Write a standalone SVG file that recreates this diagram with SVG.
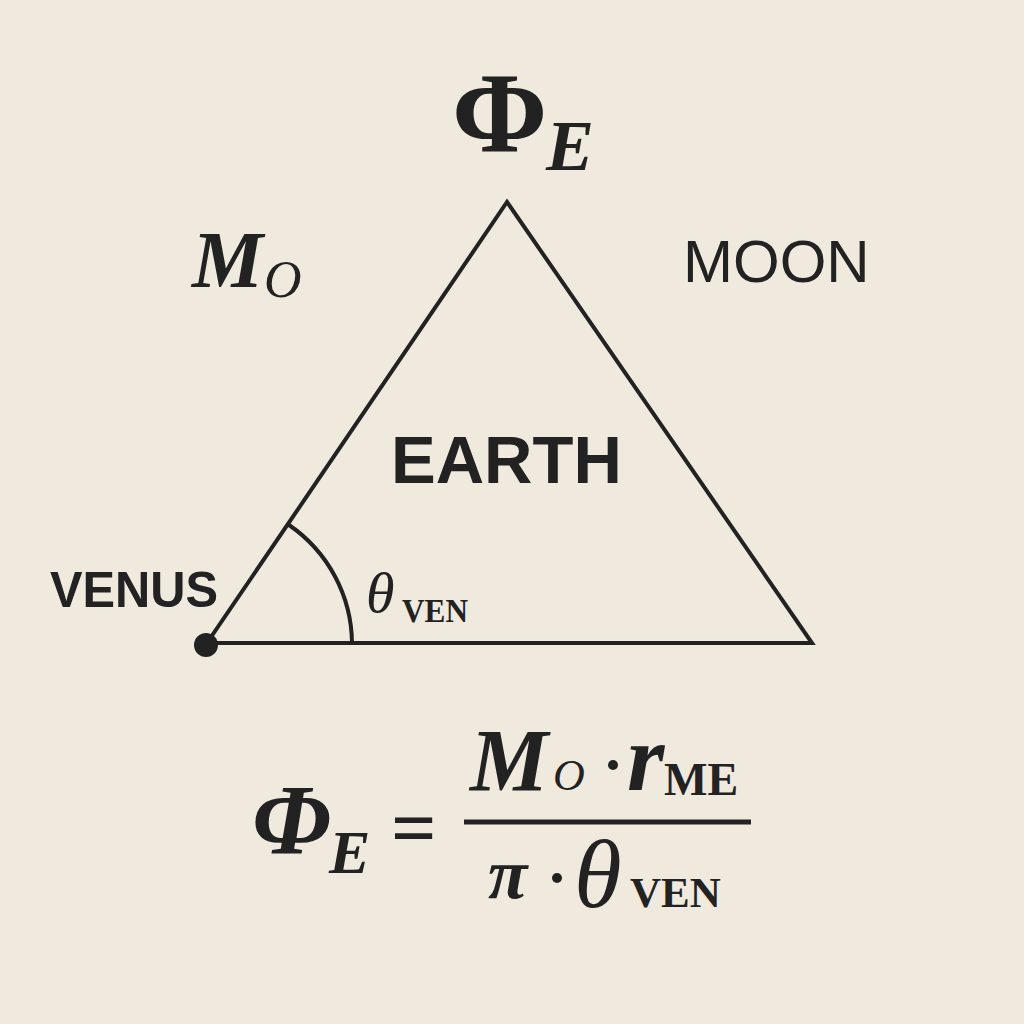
<svg xmlns="http://www.w3.org/2000/svg" width="1024" height="1024" viewBox="0 0 1024 1024">
<style>
.serif{font-family:"Liberation Serif","DejaVu Serif",serif;fill:#222}
.sans{font-family:"Liberation Sans","DejaVu Sans",sans-serif;fill:#222}
.it{font-style:italic}
.b{font-weight:bold}
.ln{stroke:#222;stroke-width:4;fill:none;stroke-linejoin:miter}
</style>
<rect width="1024" height="1024" fill="#efe9de"/>
<g id="triangle">
<polygon class="ln" points="507,202 812,643 207,643"/>
</g>
<g id="connectors">
<path class="ln" d="M289,525 A145,145 0 0 1 352,643"/>
</g>
<g id="venus-point"><circle cx="206" cy="645" r="12" fill="#222"/></g>
<g id="phi-top">
<text class="serif b" x="452" y="151" font-size="115">Φ</text>
<text class="serif it b" x="546" y="170" font-size="72">E</text>
</g>
<g id="mo-label">
<text class="serif it b" x="192" y="287" font-size="80">M</text>
<text class="serif it" x="264" y="297" font-size="52">O</text>
</g>
<g id="moon"><text class="sans" x="683" y="282" font-size="60">MOON</text></g>
<g id="earth"><text class="sans b" x="391" y="483" font-size="67">EARTH</text></g>
<g id="venus"><text class="sans b" x="50" y="607" font-size="50" textLength="168" lengthAdjust="spacingAndGlyphs">VENUS</text></g>
<g id="theta-label">
<text class="serif it" x="366" y="612" font-size="58">θ</text>
<text class="serif b" x="402" y="622" font-size="34" textLength="66" lengthAdjust="spacingAndGlyphs">VEN</text>
</g>
<g id="formula">
<text class="serif it b" x="252" y="853" font-size="100">Φ</text>
<text class="serif it b" x="329" y="873" font-size="62">E</text>
<text class="serif b" x="391" y="855" font-size="80">=</text>
<line x1="464" y1="822" x2="751" y2="822" stroke="#222" stroke-width="5"/>
<text class="serif it b" x="470" y="790" font-size="88">M</text>
<text class="serif it" x="553" y="790" font-size="44">O</text>
<circle cx="613" cy="765" r="5" fill="#222"/>
<text class="serif it b" x="627" y="790" font-size="96">r</text>
<text class="serif b" x="664" y="795" font-size="46">ME</text>
<text class="serif it b" x="488" y="898" font-size="72">π</text>
<circle cx="557" cy="878" r="5" fill="#222"/>
<text class="serif it" x="574" y="907" font-size="97">θ</text>
<text class="serif b" x="630" y="907" font-size="43">VEN</text>
</g>
</svg>
